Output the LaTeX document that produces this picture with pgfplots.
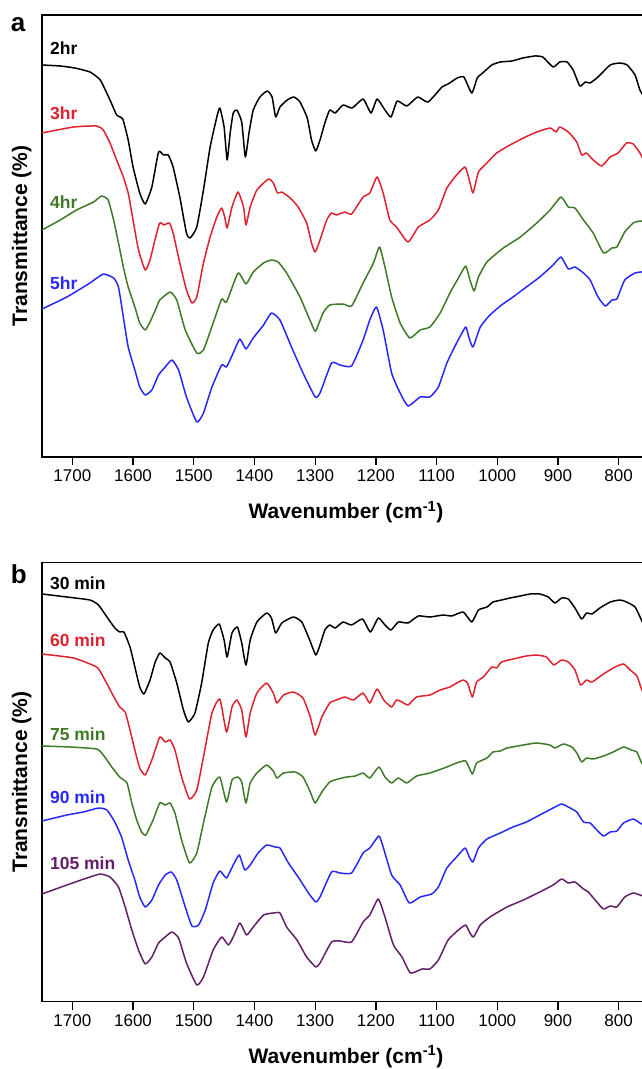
\documentclass[border=0pt]{standalone}
\usepackage{fontspec}
\setmainfont{Liberation Sans}
\usepackage{pgfplots}
\pgfplotsset{compat=1.18}
\definecolor{cRed}{RGB}{222,34,46}
\definecolor{cGreen}{RGB}{62,122,40}
\definecolor{cBlue}{RGB}{40,40,250}
\definecolor{cPurple}{RGB}{100,30,105}
\newcommand{\tickfont}{\fontsize{17}{20}\selectfont}
\newcommand{\labfont}{\fontsize{21}{24}\selectfont\bfseries}
\newcommand{\serfont}{\fontsize{17.5}{20}\selectfont\bfseries}
\pgfplotsset{
  spec/.style={
    scale only axis, width=613.1pt,
    xmin=740, xmax=1750, x dir=reverse,
    y dir=reverse,
    xtick={800,900,...,1700}, ytick=\empty,
    xtick pos=left, tick align=outside, major tick length=8pt,
    /pgf/number format/assume math mode=true,
    /pgf/number format/1000 sep={},
    tick style={line width=1.3pt, black},
    axis line style={line width=1.4pt},
    ticklabel style={font=\tickfont},
    xticklabel style={yshift=-1pt},
    label style={font=\labfont},
    xlabel={Wavenumber (cm\textsuperscript{-1})},
    ylabel={Transmittance (\%)},
    xlabel style={at={(axis description cs:0.4958,0)}, anchor=center, yshift=-55pt},
    ylabel style={at={(axis description cs:-0.0331,0.5)}, anchor=center},
    every axis plot/.append style={line width=1.5pt, line join=round, no marks, smooth, tension=0.3},
    clip=true,
  }
}
\begin{document}
\begin{tikzpicture}
\useasboundingbox (0pt,0pt) rectangle (641pt,1069pt);
% ---------------- panel a ----------------
\begin{axis}[spec, height=442pt, ymin=15, ymax=457, at={(42pt,612pt)}, anchor=south west]
\addplot[black] coordinates {
(1750,65)(1720,66)(1696,68)(1671,72)(1654,80)(1638,100)(1627,115)(1617,119)(1608,140)(1600,167)
(1589,193)(1580,204)(1569,187)(1558,152)(1550,155)(1542,155)(1534,167)(1523,197)(1512,233)(1506,238)
(1495,227)(1484,190)(1473,147)(1462,117)(1457,108)(1450,127)(1445,160)(1440,133)(1435,113)(1429,110)
(1421,122)(1415,157)(1409,133)(1402,110)(1391,97)(1379,91)(1371,97)(1365,117)(1358,107)(1346,100)
(1335,97)(1325,102)(1313,118)(1306,140)(1299,151)(1292,140)(1284,123)(1276,110)(1267,113)(1254,105)
(1239,108)(1221,99)(1208,113)(1198,99)(1185,110)(1175,117)(1165,101)(1149,106)(1131,97)(1114,102)
(1091,87)(1081,84)(1066,78)(1055,77)(1042,93)(1033,78)(1024,73)(1009,65)(995,62)(976,61)
(958,58)(938,56)(925,57)(908,67)(897,62)(885,62)(875,70)(864,86)(855,82)(847,83)
(834,77)(814,65)(798,63)(786,65)(773,75)(765,90)(755,100)};
\addplot[cRed] coordinates {
(1750,133)(1698,127)(1660,126)(1649,130)(1638,143)(1627,160)(1616,177)(1608,193)(1600,220)(1591,250)
(1580,270)(1572,260)(1564,240)(1556,223)(1549,225)(1540,223)(1534,233)(1523,263)(1512,290)(1503,303)
(1495,297)(1484,263)(1473,237)(1462,217)(1454,208)(1449,217)(1445,228)(1437,207)(1427,192)(1418,207)
(1414,225)(1407,207)(1396,190)(1377,179)(1369,183)(1362,193)(1355,192)(1341,198)(1328,207)(1314,223)
(1306,243)(1300,252)(1292,240)(1281,220)(1273,213)(1265,215)(1251,212)(1240,214)(1221,197)(1210,193)
(1198,177)(1188,193)(1177,220)(1166,227)(1147,242)(1130,227)(1111,220)(1097,210)(1083,188)(1067,175)
(1053,167)(1046,180)(1040,193)(1031,172)(1017,163)(1001,153)(979,145)(957,138)(935,132)(913,128)
(903,132)(897,127)(883,132)(869,142)(861,155)(853,153)(842,160)(828,166)(814,157)(801,153)
(787,143)(776,144)(765,153)(755,165)};
\addplot[cGreen] coordinates {
(1750,230)(1720,220)(1693,210)(1665,202)(1652,196)(1641,200)(1632,220)(1624,243)(1616,267)(1608,287)
(1597,307)(1589,323)(1580,330)(1572,322)(1561,307)(1556,300)(1539,292)(1528,300)(1514,330)(1495,353)
(1484,350)(1468,323)(1454,299)(1446,302)(1427,273)(1414,284)(1402,272)(1385,263)(1372,260)(1361,262)
(1347,273)(1325,297)(1303,328)(1299,331)(1287,313)(1276,305)(1254,304)(1240,306)(1221,283)(1204,263)
(1194,247)(1185,267)(1174,297)(1160,323)(1144,338)(1127,330)(1111,327)(1094,313)(1078,293)(1064,278)
(1052,266)(1045,280)(1038,291)(1031,277)(1017,262)(990,248)(962,237)(935,223)(913,210)(895,197)
(883,207)(872,208)(858,220)(842,233)(825,253)(811,248)(803,247)(790,232)(776,223)(765,221)(755,222)};
\addplot[cBlue] coordinates {
(1750,309)(1709,297)(1671,283)(1649,274)(1632,278)(1624,287)(1616,317)(1608,347)(1597,370)(1589,387)
(1580,395)(1569,390)(1558,375)(1547,367)(1536,360)(1525,370)(1512,397)(1495,422)(1484,413)(1470,387)
(1454,365)(1446,367)(1435,353)(1424,339)(1414,349)(1402,338)(1385,325)(1372,313)(1358,320)(1339,347)
(1320,373)(1300,397)(1292,393)(1273,363)(1259,365)(1240,366)(1221,340)(1210,320)(1199,307)(1188,330)
(1174,373)(1160,393)(1147,406)(1127,397)(1111,397)(1097,387)(1083,363)(1067,343)(1052,327)(1047,337)
(1040,347)(1028,327)(1012,315)(993,305)(974,297)(952,287)(930,277)(908,265)(895,257)(883,269)
(872,267)(858,273)(847,280)(834,297)(822,306)(811,300)(803,299)(790,280)(773,273)(763,272)(755,272)};
\node[anchor=west, inner sep=0pt, font=\serfont, text=black]  at (axis cs:1737,48) {2hr};
\node[anchor=west, inner sep=0pt, font=\serfont, text=cRed]   at (axis cs:1737,113.5) {3hr};
\node[anchor=west, inner sep=0pt, font=\serfont, text=cGreen] at (axis cs:1737,202.5) {4hr};
\node[anchor=west, inner sep=0pt, font=\serfont, text=cBlue]  at (axis cs:1737,283) {5hr};
\end{axis}
% ---------------- panel b ----------------
\begin{axis}[spec, height=439pt, ymin=562.7, ymax=1001.7, at={(42pt,67.3pt)}, anchor=south west]
\addplot[black] coordinates {
(1750,594)(1709,597)(1671,600)(1657,605)(1643,617)(1630,628)(1622,632)(1615,632)(1605,647)(1597,667)
(1589,687)(1582,694)(1572,680)(1564,663)(1556,653)(1547,658)(1539,662)(1528,683)(1517,710)(1509,722)
(1498,713)(1487,683)(1476,643)(1468,630)(1458,624)(1450,640)(1445,657)(1437,633)(1428,627)(1421,643)
(1414,665)(1407,640)(1396,622)(1380,613)(1372,618)(1365,633)(1355,623)(1336,617)(1322,622)(1309,640)
(1299,655)(1292,645)(1284,630)(1276,625)(1267,628)(1254,622)(1240,625)(1222,619)(1209,632)(1196,618)
(1185,625)(1175,630)(1163,622)(1147,623)(1130,616)(1111,617)(1089,615)(1075,616)(1056,612)(1042,622)
(1031,610)(1017,607)(1007,602)(993,600)(979,598)(962,596)(946,594)(930,594)(916,597)(905,603)
(894,598)(883,599)(872,608)(861,619)(853,613)(844,614)(831,608)(814,602)(798,600)(787,602)
(773,607)(764,618)(755,630)};
\addplot[cRed] coordinates {
(1750,654)(1698,658)(1660,667)(1649,677)(1635,693)(1622,707)(1613,712)(1605,730)(1597,750)(1589,768)
(1580,775)(1569,760)(1556,737)(1547,742)(1539,740)(1531,750)(1520,777)(1507,799)(1495,790)(1484,757)
(1470,713)(1457,699)(1446,732)(1437,707)(1429,700)(1421,710)(1414,737)(1407,713)(1396,693)(1380,683)
(1369,693)(1363,703)(1352,695)(1336,692)(1320,698)(1308,717)(1300,735)(1289,717)(1276,703)(1265,700)
(1251,697)(1237,700)(1221,693)(1210,703)(1198,689)(1187,700)(1174,707)(1166,700)(1157,702)(1147,705)
(1133,697)(1111,695)(1094,690)(1078,687)(1067,683)(1056,680)(1049,683)(1041,697)(1034,682)(1023,677)
(1009,667)(1001,668)(993,662)(974,659)(952,656)(935,655)(919,657)(907,665)(894,660)(883,662)
(872,670)(863,685)(853,680)(844,682)(825,674)(806,667)(792,664)(781,670)(770,676)(763,688)(755,700)};
\addplot[cGreen] coordinates {
(1750,746)(1704,747)(1660,749)(1649,755)(1635,767)(1622,777)(1610,783)(1602,803)(1594,820)(1586,832)
(1579,835)(1567,820)(1556,803)(1547,805)(1539,803)(1531,813)(1520,840)(1507,863)(1495,853)(1484,823)
(1470,787)(1457,777)(1446,802)(1437,780)(1427,777)(1421,782)(1414,803)(1407,783)(1396,773)(1380,765)
(1369,771)(1363,778)(1352,773)(1333,772)(1320,777)(1308,792)(1300,803)(1289,792)(1276,782)(1262,779)
(1248,777)(1234,776)(1221,773)(1210,778)(1195,767)(1185,777)(1174,783)(1163,778)(1149,783)(1133,776)
(1111,773)(1083,767)(1067,763)(1052,761)(1041,774)(1034,763)(1017,758)(1007,752)(995,751)(984,748)
(957,745)(935,743)(913,745)(905,748)(891,744)(877,747)(869,753)(861,762)(853,758)(842,759)
(825,756)(809,752)(792,747)(779,750)(770,752)(763,762)(755,770)};
\addplot[cBlue] coordinates {
(1750,821)(1709,815)(1682,812)(1657,808)(1643,810)(1630,822)(1619,837)(1608,860)(1597,880)(1589,897)
(1580,907)(1569,900)(1558,885)(1547,875)(1537,872)(1528,880)(1514,907)(1503,926)(1492,925)(1481,910)
(1468,883)(1457,871)(1446,878)(1435,865)(1425,855)(1416,870)(1407,865)(1394,853)(1380,845)(1366,847)
(1358,848)(1344,863)(1328,877)(1311,893)(1299,902)(1292,897)(1273,872)(1259,873)(1240,873)(1221,853)
(1210,848)(1195,836)(1188,847)(1174,875)(1160,885)(1145,903)(1127,897)(1108,894)(1097,887)(1083,868)
(1067,857)(1053,848)(1046,857)(1040,862)(1031,848)(1017,839)(995,833)(974,827)(952,822)(930,815)
(908,808)(894,804)(883,807)(869,812)(858,822)(847,823)(836,830)(825,836)(814,832)(803,831)
(792,823)(776,819)(765,823)(755,826)};
\addplot[cPurple] coordinates {
(1750,894)(1709,885)(1676,878)(1654,874)(1638,877)(1624,887)(1613,907)(1602,930)(1591,950)(1580,964)
(1569,957)(1558,943)(1547,937)(1536,932)(1525,938)(1512,963)(1495,985)(1484,977)(1468,950)(1454,937)
(1443,945)(1435,937)(1424,923)(1413,935)(1402,927)(1385,915)(1369,913)(1358,913)(1347,927)(1330,940)
(1314,957)(1299,967)(1292,963)(1273,942)(1259,941)(1240,942)(1221,922)(1210,915)(1196,899)(1185,917)
(1171,945)(1157,957)(1143,973)(1124,969)(1111,969)(1097,960)(1081,940)(1064,930)(1052,925)(1045,933)
(1039,937)(1028,925)(1012,917)(984,907)(957,900)(930,892)(908,885)(894,879)(883,883)(872,882)
(858,889)(850,892)(836,902)(825,909)(814,906)(803,907)(790,897)(776,893)(765,895)(755,897)};
\node[anchor=west, inner sep=0pt, font=\serfont, text=black]   at (axis cs:1737,583) {30 min};
\node[anchor=west, inner sep=0pt, font=\serfont, text=cRed]    at (axis cs:1737,640) {60 min};
\node[anchor=west, inner sep=0pt, font=\serfont, text=cGreen]  at (axis cs:1737,734) {75 min};
\node[anchor=west, inner sep=0pt, font=\serfont, text=cBlue]   at (axis cs:1737,797.5) {90 min};
\node[anchor=west, inner sep=0pt, font=\serfont, text=cPurple] at (axis cs:1737,863) {105 min};
\end{axis}
% panel letters
\node[anchor=base west, inner sep=0pt, font=\fontsize{26}{28}\selectfont\bfseries] at (10.7pt,1037pt) {a};
\node[anchor=base west, inner sep=0pt, font=\fontsize{26}{28}\selectfont\bfseries] at (10.7pt,485.7pt) {b};
\end{tikzpicture}
\end{document}
